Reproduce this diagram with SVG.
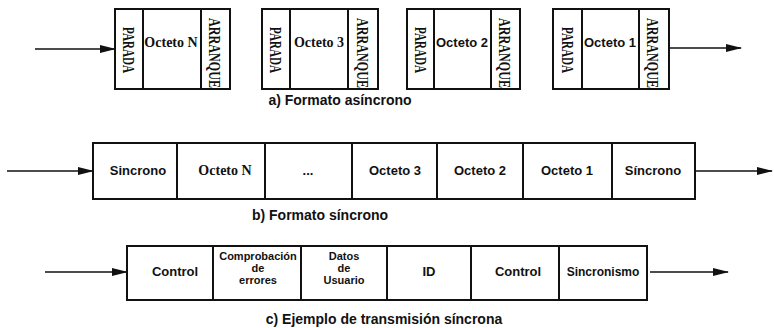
<svg xmlns="http://www.w3.org/2000/svg" width="774" height="328" viewBox="0 0 774 328">
<defs>
<marker id="ah" markerWidth="16" markerHeight="10" refX="15" refY="5" orient="auto" markerUnits="userSpaceOnUse">
<path d="M0,1 L16,5 L0,9 Z" fill="#111"/>
</marker>
<style>
.box{fill:#fff;stroke:#111;stroke-width:2}
.div{stroke:#111;stroke-width:2}
.ln{stroke:#111;stroke-width:1.6;fill:none}
.ser{font-family:"Liberation Serif",serif;font-weight:bold;fill:#111}
.san{font-family:"Liberation Sans",sans-serif;font-weight:bold;fill:#111}
.rot{font-family:"Liberation Serif",serif;font-weight:bold;font-size:17px;fill:#111}
.cap{font-family:"Liberation Sans",sans-serif;font-weight:bold;font-size:14px;fill:#111}
</style>
</defs>
<rect width="774" height="328" fill="#fff"/>
<g id="connectors">
<line class="ln" x1="35" y1="49" x2="115" y2="49" marker-end="url(#ah)"/>
<line class="ln" x1="669" y1="48" x2="741" y2="48" marker-end="url(#ah)"/>
<line class="ln" x1="7" y1="171" x2="93" y2="171" marker-end="url(#ah)"/>
<line class="ln" x1="695" y1="171" x2="772" y2="171" marker-end="url(#ah)"/>
<line class="ln" x1="45" y1="272" x2="127" y2="272" marker-end="url(#ah)"/>
<line class="ln" x1="650" y1="272" x2="728" y2="272" marker-end="url(#ah)"/>
</g>
<g id="async-N">
<rect class="box" x="115" y="9" width="115" height="80"/>
<line class="div" x1="143" y1="9" x2="143" y2="89"/>
<line class="div" x1="201" y1="9" x2="201" y2="89"/>
<text class="rot" transform="translate(123,50) rotate(90)" text-anchor="middle" textLength="46" lengthAdjust="spacingAndGlyphs">PARADA</text>
<text class="ser" x="171" y="47" font-size="14" text-anchor="middle">Octeto N</text>
<text class="rot" transform="translate(209,53) rotate(90)" text-anchor="middle" textLength="70" lengthAdjust="spacingAndGlyphs">ARRANQUE</text>
</g>
<g id="async-3">
<rect class="box" x="262" y="9" width="116" height="80"/>
<line class="div" x1="290" y1="9" x2="290" y2="89"/>
<line class="div" x1="348" y1="9" x2="348" y2="89"/>
<text class="rot" transform="translate(270,50) rotate(90)" text-anchor="middle" textLength="46" lengthAdjust="spacingAndGlyphs">PARADA</text>
<text class="ser" x="319" y="47" font-size="14" text-anchor="middle">Octeto 3</text>
<text class="rot" transform="translate(357,53) rotate(90)" text-anchor="middle" textLength="70" lengthAdjust="spacingAndGlyphs">ARRANQUE</text>
</g>
<g id="async-2">
<rect class="box" x="407" y="9" width="113" height="80"/>
<line class="div" x1="434" y1="9" x2="434" y2="89"/>
<line class="div" x1="491" y1="9" x2="491" y2="89"/>
<text class="rot" transform="translate(415,50) rotate(90)" text-anchor="middle" textLength="46" lengthAdjust="spacingAndGlyphs">PARADA</text>
<text class="san" x="462" y="47" font-size="13" text-anchor="middle">Octeto 2</text>
<text class="rot" transform="translate(499,53) rotate(90)" text-anchor="middle" textLength="70" lengthAdjust="spacingAndGlyphs">ARRANQUE</text>
</g>
<g id="async-1">
<rect class="box" x="553" y="9" width="116" height="80"/>
<line class="div" x1="582" y1="9" x2="582" y2="89"/>
<line class="div" x1="639" y1="9" x2="639" y2="89"/>
<text class="rot" transform="translate(562,50) rotate(90)" text-anchor="middle" textLength="46" lengthAdjust="spacingAndGlyphs">PARADA</text>
<text class="san" x="610" y="47" font-size="13" text-anchor="middle">Octeto 1</text>
<text class="rot" transform="translate(647,53) rotate(90)" text-anchor="middle" textLength="70" lengthAdjust="spacingAndGlyphs">ARRANQUE</text>
</g>
<text class="cap" x="340" y="105" text-anchor="middle">a) Formato asíncrono</text>
<g id="sync-frame">
<rect class="box" x="93" y="143" width="602" height="56"/>
<line class="div" x1="177" y1="143" x2="177" y2="199"/>
<line class="div" x1="265" y1="143" x2="265" y2="199"/>
<line class="div" x1="352" y1="143" x2="352" y2="199"/>
<line class="div" x1="437" y1="143" x2="437" y2="199"/>
<line class="div" x1="523" y1="143" x2="523" y2="199"/>
<line class="div" x1="612" y1="143" x2="612" y2="199"/>
<text class="san" x="138" y="175" font-size="13" text-anchor="middle">Sincrono</text>
<text class="ser" x="225" y="175" font-size="14" text-anchor="middle">Octeto N</text>
<text class="san" x="308" y="175" font-size="13" text-anchor="middle">...</text>
<text class="san" x="395" y="175" font-size="13" text-anchor="middle">Octeto 3</text>
<text class="san" x="480" y="175" font-size="13" text-anchor="middle">Octeto 2</text>
<text class="san" x="567" y="175" font-size="13" text-anchor="middle">Octeto 1</text>
<text class="san" x="653" y="175" font-size="13" text-anchor="middle">Síncrono</text>
</g>
<text class="cap" x="320" y="220" text-anchor="middle">b) Formato síncrono</text>
<g id="sync-example">
<rect class="box" x="127" y="246" width="520" height="54"/>
<line class="div" x1="213" y1="246" x2="213" y2="300"/>
<line class="div" x1="301" y1="246" x2="301" y2="300"/>
<line class="div" x1="387" y1="246" x2="387" y2="300"/>
<line class="div" x1="471" y1="246" x2="471" y2="300"/>
<line class="div" x1="559" y1="246" x2="559" y2="300"/>
<text class="san" x="175" y="276" font-size="13" text-anchor="middle">Control</text>
<text class="san" font-size="11" text-anchor="middle"><tspan x="258" y="260">Comprobación</tspan><tspan x="258" y="272">de</tspan><tspan x="258" y="284">errores</tspan></text>
<text class="san" font-size="11" text-anchor="middle"><tspan x="344" y="260">Datos</tspan><tspan x="344" y="272">de</tspan><tspan x="344" y="284">Usuario</tspan></text>
<text class="san" x="429" y="276" font-size="13" text-anchor="middle">ID</text>
<text class="san" x="518" y="276" font-size="13" text-anchor="middle">Control</text>
<text class="san" x="603" y="276" font-size="12" text-anchor="middle">Sincronismo</text>
</g>
<text class="cap" x="384" y="324" text-anchor="middle">c) Ejemplo de transmisión síncrona</text>
</svg>
